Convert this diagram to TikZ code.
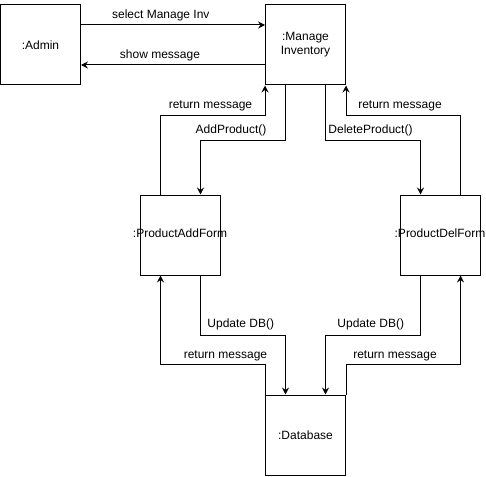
\documentclass[tikz,border=0pt]{standalone}
\usepackage{fontspec}
\setmainfont{Liberation Sans}
\usetikzlibrary{arrows.meta}
\begin{document}
\begin{tikzpicture}[x=1pt,y=-1pt,
  obj/.style={draw=black,line width=1pt,fill=white,minimum width=80pt,minimum height=80pt,
    inner sep=0pt,align=center,font=\fontsize{12}{14}\selectfont},
  arr/.style={draw=black,line width=1pt,-{Stealth[length=7pt,width=7pt,inset=2.5pt]}},
  lbl/.style={inner sep=0pt,font=\fontsize{12}{14}\selectfont,text height=8.6pt,text depth=2.5pt}]
\useasboundingbox (0,0) rectangle (486,476);
% lifeline objects
\node[obj] (admin) at (40.5,45) {:Admin};
\node[obj] (inv) at (305.5,45) {:Manage\\Inventory};
\node[obj] (add) at (180.5,235) {};
\node[obj] (del) at (440.5,235) {};
\node[obj] (db) at (305.5,435) {:Database};
% form names overflow their boxes
\node[lbl] (addt) at (180,234) {:ProductAddForm};
\node[lbl] (delt) at (440,234) {:ProductDelForm};
% admin <-> manage inventory
\draw[arr] ([yshift=20pt]admin.east) -- ([yshift=20pt]inv.west);
\draw[arr] ([yshift=-20pt]inv.west) -- ([yshift=-20pt]admin.east);
% manage inventory <-> forms
\draw[arr] ([xshift=-20pt]inv.south) -- ++(0,55) -| ([xshift=20pt]add.north);
\draw[arr] ([xshift=-20pt]add.north) |- ([yshift=-30pt]inv.south west) -- (inv.south west);
\draw[arr] ([xshift=20pt]inv.south) -- ++(0,55) -| ([xshift=-20pt]del.north);
\draw[arr] ([xshift=20pt]del.north) |- ([yshift=-30pt]inv.south east) -- (inv.south east);
% forms <-> database
\draw[arr] ([xshift=20pt]add.south) -- ++(0,60) -| ([xshift=-20pt]db.north);
\draw[arr] (db.north west) -- ++(0,-30) -| ([xshift=-20pt]add.south);
\draw[arr] ([xshift=-20pt]del.south) -- ++(0,60) -| ([xshift=20pt]db.north);
\draw[arr] (db.north east) -- ++(0,-30) -| ([xshift=20pt]del.south);
% message labels
\node[lbl] (l1) at (160.8,15) {select Manage Inv};
\node[lbl] (l2) at (160,55) {show message};
\node[lbl] (l3) at (210.5,105) {return message};
\node[lbl] (l4) at (231,130) {AddProduct()};
\node[lbl] (l5) at (370.5,130) {DeleteProduct()};
\node[lbl] (l6) at (400,105) {return message};
\node[lbl] (l7) at (240.8,324) {Update DB()};
\node[lbl] (l8) at (370.8,324) {Update DB()};
\node[lbl] (l9) at (225.5,355) {return message};
\node[lbl] (l10) at (395,355) {return message};
\end{tikzpicture}
\end{document}
